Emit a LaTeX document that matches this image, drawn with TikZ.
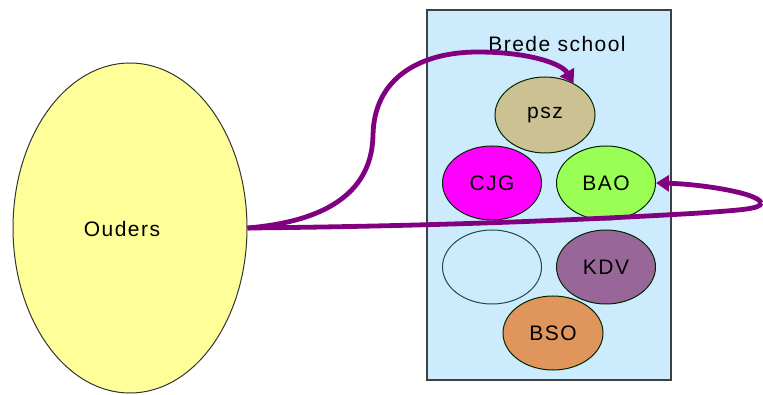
\documentclass[tikz,border=0pt]{standalone}
\usepackage{fontspec}
\setmainfont{Liberation Sans}[LetterSpace=7]
\usetikzlibrary{shapes.geometric,arrows.meta}
\definecolor{ouderfill}{HTML}{FFFF99}
\definecolor{schoolfill}{HTML}{CCEBFC}
\definecolor{schoolline}{HTML}{404040}
\definecolor{pszfill}{HTML}{CCC193}
\definecolor{cjgfill}{HTML}{FF00FF}
\definecolor{baofill}{HTML}{99FF55}
\definecolor{kdvfill}{HTML}{996699}
\definecolor{bsofill}{HTML}{E0955C}
\definecolor{emptyline}{HTML}{1F4A4A}
\definecolor{linkpurple}{HTML}{800080}
\tikzset{
  bubble/.style={ellipse, draw=black!85!green, line width=1pt, inner sep=0pt,
     minimum width=99pt, minimum height=74pt, font=\fontsize{21}{25}\selectfont},
  link/.style={draw=linkpurple, line width=4.8pt,
     -{Triangle[length=13pt,width=16pt]}},
  plainlink/.style={draw=linkpurple, line width=4.8pt}
}
\begin{document}
\begin{tikzpicture}[x=1pt,y=-1pt]
\useasboundingbox (0,0) rectangle (763,395);
% Ouders
\node[ellipse, draw=black!80, line width=1pt, fill=ouderfill, inner sep=0pt,
  minimum width=234pt, minimum height=330pt, font=\fontsize{21}{25}\selectfont]
  (ouders) at (130,228) {};
\node[font=\fontsize{21}{25}\selectfont] (ouderslabel) at (122,229) {Ouders};
% Brede school box
\node[draw=schoolline, line width=1.2pt, fill=schoolfill, inner sep=0pt,
  minimum width=244pt, minimum height=370pt] (school) at (549,195) {};
\node[font=\fontsize{21}{25}\selectfont] (schoollabel) at (557,44) {Brede school};
% bubbles
\node[bubble, fill=pszfill, minimum width=100pt, minimum height=76pt] (psz) at (545,115) {psz};
\node[bubble, fill=cjgfill] (cjg) at (492,183) {CJG};
\node[bubble, fill=baofill] (bao) at (606,183) {BAO};
\node[bubble, fill=schoolfill, draw=emptyline] (empty) at (492,267) {};
\node[bubble, fill=kdvfill] (kdv) at (606,267) {KDV};
\node[bubble, fill=bsofill, minimum width=100pt] (bso) at (553,333) {BSO};
% connectors
\draw[link] (ouders.east) .. controls (330,221) and (372,190) .. (373,135)
  .. controls (374,78) and (420,52) .. (478,52)
  .. controls (530,52) and (562,64) .. (psz.48);
\coordinate (turn) at (761,203);
\draw[plainlink] (ouders.east) .. controls (450,226) and (600,219) .. (700,213)
  .. controls (740,210) and (761,209) .. (turn);
\draw[link] (turn) .. controls (759,193) and (700,184) .. (bao.east);
\end{tikzpicture}
\end{document}
